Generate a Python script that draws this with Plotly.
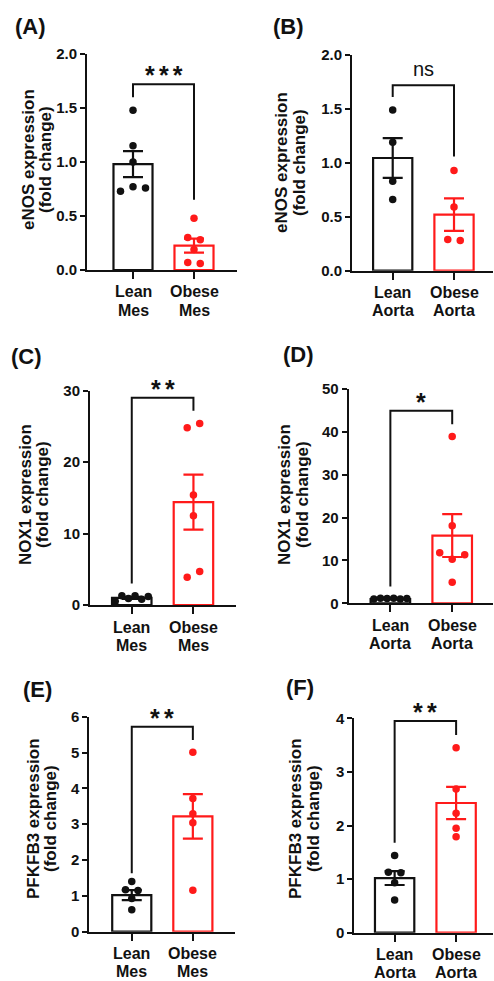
import plotly.graph_objects as go

W, H = 494, 981

# ---------------- data ----------------
cats_mes = [("Lean", "Mes"), ("Obese", "Mes")]
cats_aorta = [("Lean", "Aorta"), ("Obese", "Aorta")]

panel_labels = ["(A)", "(B)", "(C)", "(D)", "(E)", "(F)"]
y_title_line1 = ["eNOS expression", "eNOS expression", "NOX1 expression",
                 "NOX1 expression", "PFKFB3 expression", "PFKFB3 expression"]
y_title_line2 = "(fold change)"
significance = ["***", "ns", "**", "*", "**", "**"]

a_lean = [1.48, 1.15, 1.00, 0.73, 0.77, 0.76]
a_obese = [0.48, 0.30, 0.28, 0.19, 0.07, 0.06]
a_mean = [0.98, 0.225]
a_sem = [0.12, 0.065]

b_lean = [1.49, 1.19, 0.83, 0.66]
b_obese = [0.93, 0.59, 0.29, 0.28]
b_mean = [1.045, 0.52]
b_sem = [0.185, 0.15]

c_lean = [0.5, 1.3, 0.9, 1.3, 0.8, 1.2]
c_obese = [24.8, 25.4, 15.4, 12.5, 3.9, 4.7]
c_mean = [1.0, 14.4]
c_sem = [0.13, 3.85]

d_lean = [1.0, 1.2, 1.1, 1.2, 1.0, 1.1]
d_obese = [38.9, 18.1, 11.8, 10.3, 11.3, 4.9]
d_mean = [1.0, 15.8]
d_sem = [0.05, 5.0]

e_lean = [1.40, 1.17, 1.15, 0.93, 0.61]
e_obese = [5.01, 3.72, 3.29, 3.04, 1.16]
e_mean = [1.02, 3.22]
e_sem = [0.14, 0.62]

f_lean = [1.44, 1.13, 1.12, 0.93, 0.61]
f_obese = [3.45, 2.68, 2.23, 1.95, 1.79]
f_mean = [1.02, 2.42]
f_sem = [0.13, 0.30]

y_max = [2, 2, 30, 50, 6, 4]
y_dtick = [0.5, 0.5, 10, 10, 1, 1]

bracket_top = [1.72, 1.72, 29.0, 44.9, 5.72, 3.95]
bracket_left_end = [1.60, 1.61, 3.0, 3.9, 1.63, 1.68]
bracket_right_end = [0.65, 1.06, 27.2, 41.8, 5.35, 3.69]

# ---------------- layout geometry (pixels) ----------------
geom = [
    dict(l=87, r=236.7, y0=270, y1=54, xr=[-0.754, 1.70]),
    dict(l=352, r=493, y0=270.7, y1=55, xr=[-0.664, 1.636]),
    dict(l=90, r=236, y0=605, y1=390.7, xr=[-0.677, 1.69]),
    dict(l=348.7, r=493, y0=603.3, y1=389, xr=[-0.674, 1.66]),
    dict(l=89.3, r=235, y0=931.7, y1=716.7, xr=[-0.695, 1.69]),
    dict(l=354.3, r=493, y0=932.7, y1=718.3, xr=[-0.656, 1.60]),
]
label_pos = [(31, 26), (288.5, 26), (26, 356), (298.5, 354), (37, 689), (300, 687)]
ytitle_pos = [(28, 45, 160), (282, 300, 163), (25, 42, 495), (284, 302, 495),
              (33, 50, 819), (295, 313, 819)]

BLACK = "#111111"
RED = "#ff1a1a"
FONT = "Liberation Sans, Arial, sans-serif"

panels = [
    (a_lean, a_obese, a_mean, a_sem, cats_mes),
    (b_lean, b_obese, b_mean, b_sem, cats_aorta),
    (c_lean, c_obese, c_mean, c_sem, cats_mes),
    (d_lean, d_obese, d_mean, d_sem, cats_aorta),
    (e_lean, e_obese, e_mean, e_sem, cats_mes),
    (f_lean, f_obese, f_mean, f_sem, cats_aorta),
]


def swarm_offsets(values, y_px_per_unit, x_px_per_unit, diam=7.0, step=12.5, maxw=33.0):
    """Group points into rows (close in y), spread each row symmetrically."""
    order = sorted(range(len(values)), key=lambda k: -values[k])
    rows = []
    for k in order:
        if rows and (values[rows[-1][0]] - values[k]) * y_px_per_unit < diam:
            rows[-1].append(k)
        else:
            rows.append([k])
    offs = [0.0] * len(values)
    for row in rows:
        row = sorted(row)
        n = len(row)
        if n == 1:
            continue
        s = min(step, maxw / (n - 1))
        for j, k in enumerate(row):
            offs[k] = (j - (n - 1) / 2) * s / x_px_per_unit
    return offs


fig = go.Figure()
annotations = []
layout_axes = {}

for i, (lean, obese, mean, sem, cats) in enumerate(panels):
    g = geom[i]
    n = i + 1
    xs = "x" if n == 1 else f"x{n}"
    ys = "y" if n == 1 else f"y{n}"
    xkey = "xaxis" if n == 1 else f"xaxis{n}"
    ykey = "yaxis" if n == 1 else f"yaxis{n}"

    x_ppu = (g["r"] - g["l"]) / (g["xr"][1] - g["xr"][0])
    y_ppu = (g["y0"] - g["y1"]) / y_max[i]

    for j, col in enumerate([BLACK, RED]):
        fig.add_trace(go.Bar(
            x=[j], y=[mean[j]], width=0.64, xaxis=xs, yaxis=ys,
            marker=dict(color="rgba(255,255,255,0)", line=dict(color=col, width=2.2)),
            error_y=dict(type="data", array=[sem[j]], color=col, thickness=2.2, width=10),
            showlegend=False, hoverinfo="skip",
        ))
    for j, (vals, col) in enumerate([(lean, BLACK), (obese, RED)]):
        offs = swarm_offsets(vals, y_ppu, x_ppu)
        fig.add_trace(go.Scatter(
            x=[j + o for o in offs], y=vals, mode="markers", xaxis=xs, yaxis=ys,
            marker=dict(color=col, size=7.5), showlegend=False, hoverinfo="skip",
        ))
    fig.add_trace(go.Scatter(
        x=[0, 0, 1, 1],
        y=[bracket_left_end[i], bracket_top[i], bracket_top[i], bracket_right_end[i]],
        mode="lines", line=dict(color=BLACK, width=2), xaxis=xs, yaxis=ys,
        showlegend=False, hoverinfo="skip",
    ))
    is_ns = significance[i] == "ns"
    star_text = significance[i] if is_ns else "\u2006".join(significance[i])
    annotations.append(dict(
        x=0.5, y=bracket_top[i], xref=xs, yref=ys, text=star_text,
        showarrow=False, xanchor="center", yanchor="middle",
        yshift=16 if is_ns else 9,
        font=dict(family=FONT, size=20 if is_ns else 25, color=BLACK,
                  weight="normal" if is_ns else "bold"),
    ))

    for j, (l1, l2) in enumerate(cats):
        for off, txt in [(22, l1), (40, l2)]:
            annotations.append(dict(
                x=j, y=1 - (g["y0"] + off) / H, xref=xs, yref="paper", text=txt,
                showarrow=False, xanchor="center", yanchor="middle",
                font=dict(family=FONT, size=16, color=BLACK, weight="bold"),
            ))

    layout_axes[xkey] = dict(
        domain=[g["l"] / W, g["r"] / W], range=g["xr"], anchor=ys,
        tickmode="array", tickvals=[0, 1], showticklabels=False,
        showline=True, linecolor=BLACK, linewidth=2,
        ticks="outside", ticklen=7, tickwidth=2, tickcolor=BLACK,
        showgrid=False, zeroline=False, fixedrange=True, automargin=False,
    )
    layout_axes[ykey] = dict(
        domain=[1 - g["y0"] / H, 1 - g["y1"] / H], range=[0, y_max[i]], anchor=xs,
        tickmode="linear", tick0=0, dtick=y_dtick[i],
        tickformat=".1f" if y_dtick[i] < 1 else "d",
        showline=True, linecolor=BLACK, linewidth=2,
        ticks="outside", ticklen=5, tickwidth=2, tickcolor=BLACK,
        showgrid=False, zeroline=False, fixedrange=True, automargin=False,
        tickfont=dict(family=FONT, size=15, color=BLACK, weight="bold"),
    )

    lx, ly = label_pos[i]
    annotations.append(dict(
        x=lx / W, y=1 - ly / H, xref="paper", yref="paper", text=panel_labels[i],
        showarrow=False, xanchor="center", yanchor="middle",
        font=dict(family=FONT, size=22, color=BLACK, weight="bold"),
    ))
    t1x, t2x, ty = ytitle_pos[i]
    for tx, txt in [(t1x, y_title_line1[i]), (t2x, y_title_line2)]:
        annotations.append(dict(
            x=tx / W, y=1 - ty / H, xref="paper", yref="paper", text=txt,
            showarrow=False, xanchor="center", yanchor="middle", textangle=-90,
            font=dict(family=FONT, size=17, color=BLACK, weight="bold"),
        ))

fig.update_layout(
    width=W, height=H, margin=dict(l=0, r=0, t=0, b=0, autoexpand=False),
    paper_bgcolor="white", plot_bgcolor="rgba(0,0,0,0)",
    barmode="overlay", showlegend=False,
    annotations=annotations, **layout_axes,
)

fig.write_html(
    "out.html",
    config={"displayModeBar": False},
    post_script="document.body.style.margin='0';document.body.style.padding='0';"
                "document.body.style.overflow='hidden';",
)
